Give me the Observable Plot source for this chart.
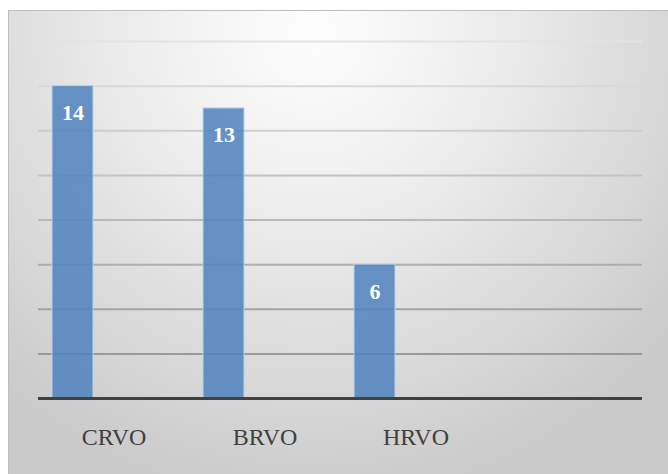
<!DOCTYPE html>
<html>
<head>
<meta charset="utf-8">
<script src="https://cdn.jsdelivr.net/npm/d3@7"></script>
<script src="https://cdn.jsdelivr.net/npm/@observablehq/plot@0.6"></script>
<style>
  html, body { margin: 0; padding: 0; background: #ffffff; }
  #chart { position: relative; width: 668px; height: 474px; overflow: hidden; }
  #chart .panel {
    position: absolute; left: 8px; top: 10px; right: 0; bottom: 0;
    border-top: 1px solid #bdbdbd; border-left: 1px solid #bdbdbd;
    background: radial-gradient(ellipse 72% 105% at 46% 4%, #fdfdfd 0%, #f1f1f1 30%, #dfdfdf 62%, #c9c9c9 100%);
  }
  #chart svg { position: absolute; left: 0; top: 0; }
  #chart svg text { font-family: "Liberation Serif", "Times New Roman", serif; }
</style>
</head>
<body>
<div id="chart"><div class="panel"></div></div>
<script>
// Retinal vein occlusion cases by type
const categories = ["CRVO", "BRVO", "HRVO"];
const counts = [14, 13, 6];
// a fourth, unlabelled slot on the category axis
const xSlots = ["CRVO", "BRVO", "HRVO", " "];
const gridTicks = [2, 4, 6, 8, 10, 12, 14, 16];

const rows = categories.map((c, i) => ({type: c, count: counts[i]}));
const serif = "Liberation Serif, Times New Roman, serif";

// gradient stroke for the horizontal gridlines (light at top, darker below)
const gridDefs = (index, scales) => {
  const defs = d3.create("svg:defs");
  const g = defs.append("linearGradient")
    .attr("id", "gridFade")
    .attr("gradientUnits", "userSpaceOnUse")
    .attr("x1", 0).attr("x2", 0)
    .attr("y1", scales.y(16)).attr("y2", scales.y(2));
  g.append("stop").attr("offset", "0%").attr("stop-color", "#e3e3e3");
  g.append("stop").attr("offset", "100%").attr("stop-color", "#999999");
  return defs.node();
};

const chart = Plot.plot({
  width: 668,
  height: 474,
  marginLeft: 38,
  marginRight: 26,
  marginTop: 41,
  marginBottom: 76,
  style: {background: "transparent", fontFamily: serif},
  x: {type: "band", domain: xSlots, paddingInner: 0, paddingOuter: 0, label: null},
  y: {domain: [0, 16], axis: null},
  marks: [
    gridDefs,
    Plot.ruleY(gridTicks, {stroke: "url(#gridFade)", strokeWidth: 2}),
    Plot.barY(rows, {
      x: "type", y: "count",
      fill: "#4f81bd", fillOpacity: 0.85,
      stroke: "#bcd2ec", strokeWidth: 1,
      insetLeft: 14, insetRight: 96
    }),
    Plot.ruleY([0], {stroke: "#404040", strokeWidth: 3}),
    Plot.text(rows, {
      x: "type", y: "count", text: d => String(d.count),
      dx: -41, dy: 27,
      fill: "#ffffff", fontWeight: "bold", fontSize: 22,
      fontFamily: serif
    }),
    Plot.axisX({
      tickSize: 0, tickPadding: 29, fontSize: 24, fill: "#404040",
      fontFamily: serif, label: null
    })
  ]
});

document.getElementById("chart").appendChild(chart);
</script>
</body>
</html>
